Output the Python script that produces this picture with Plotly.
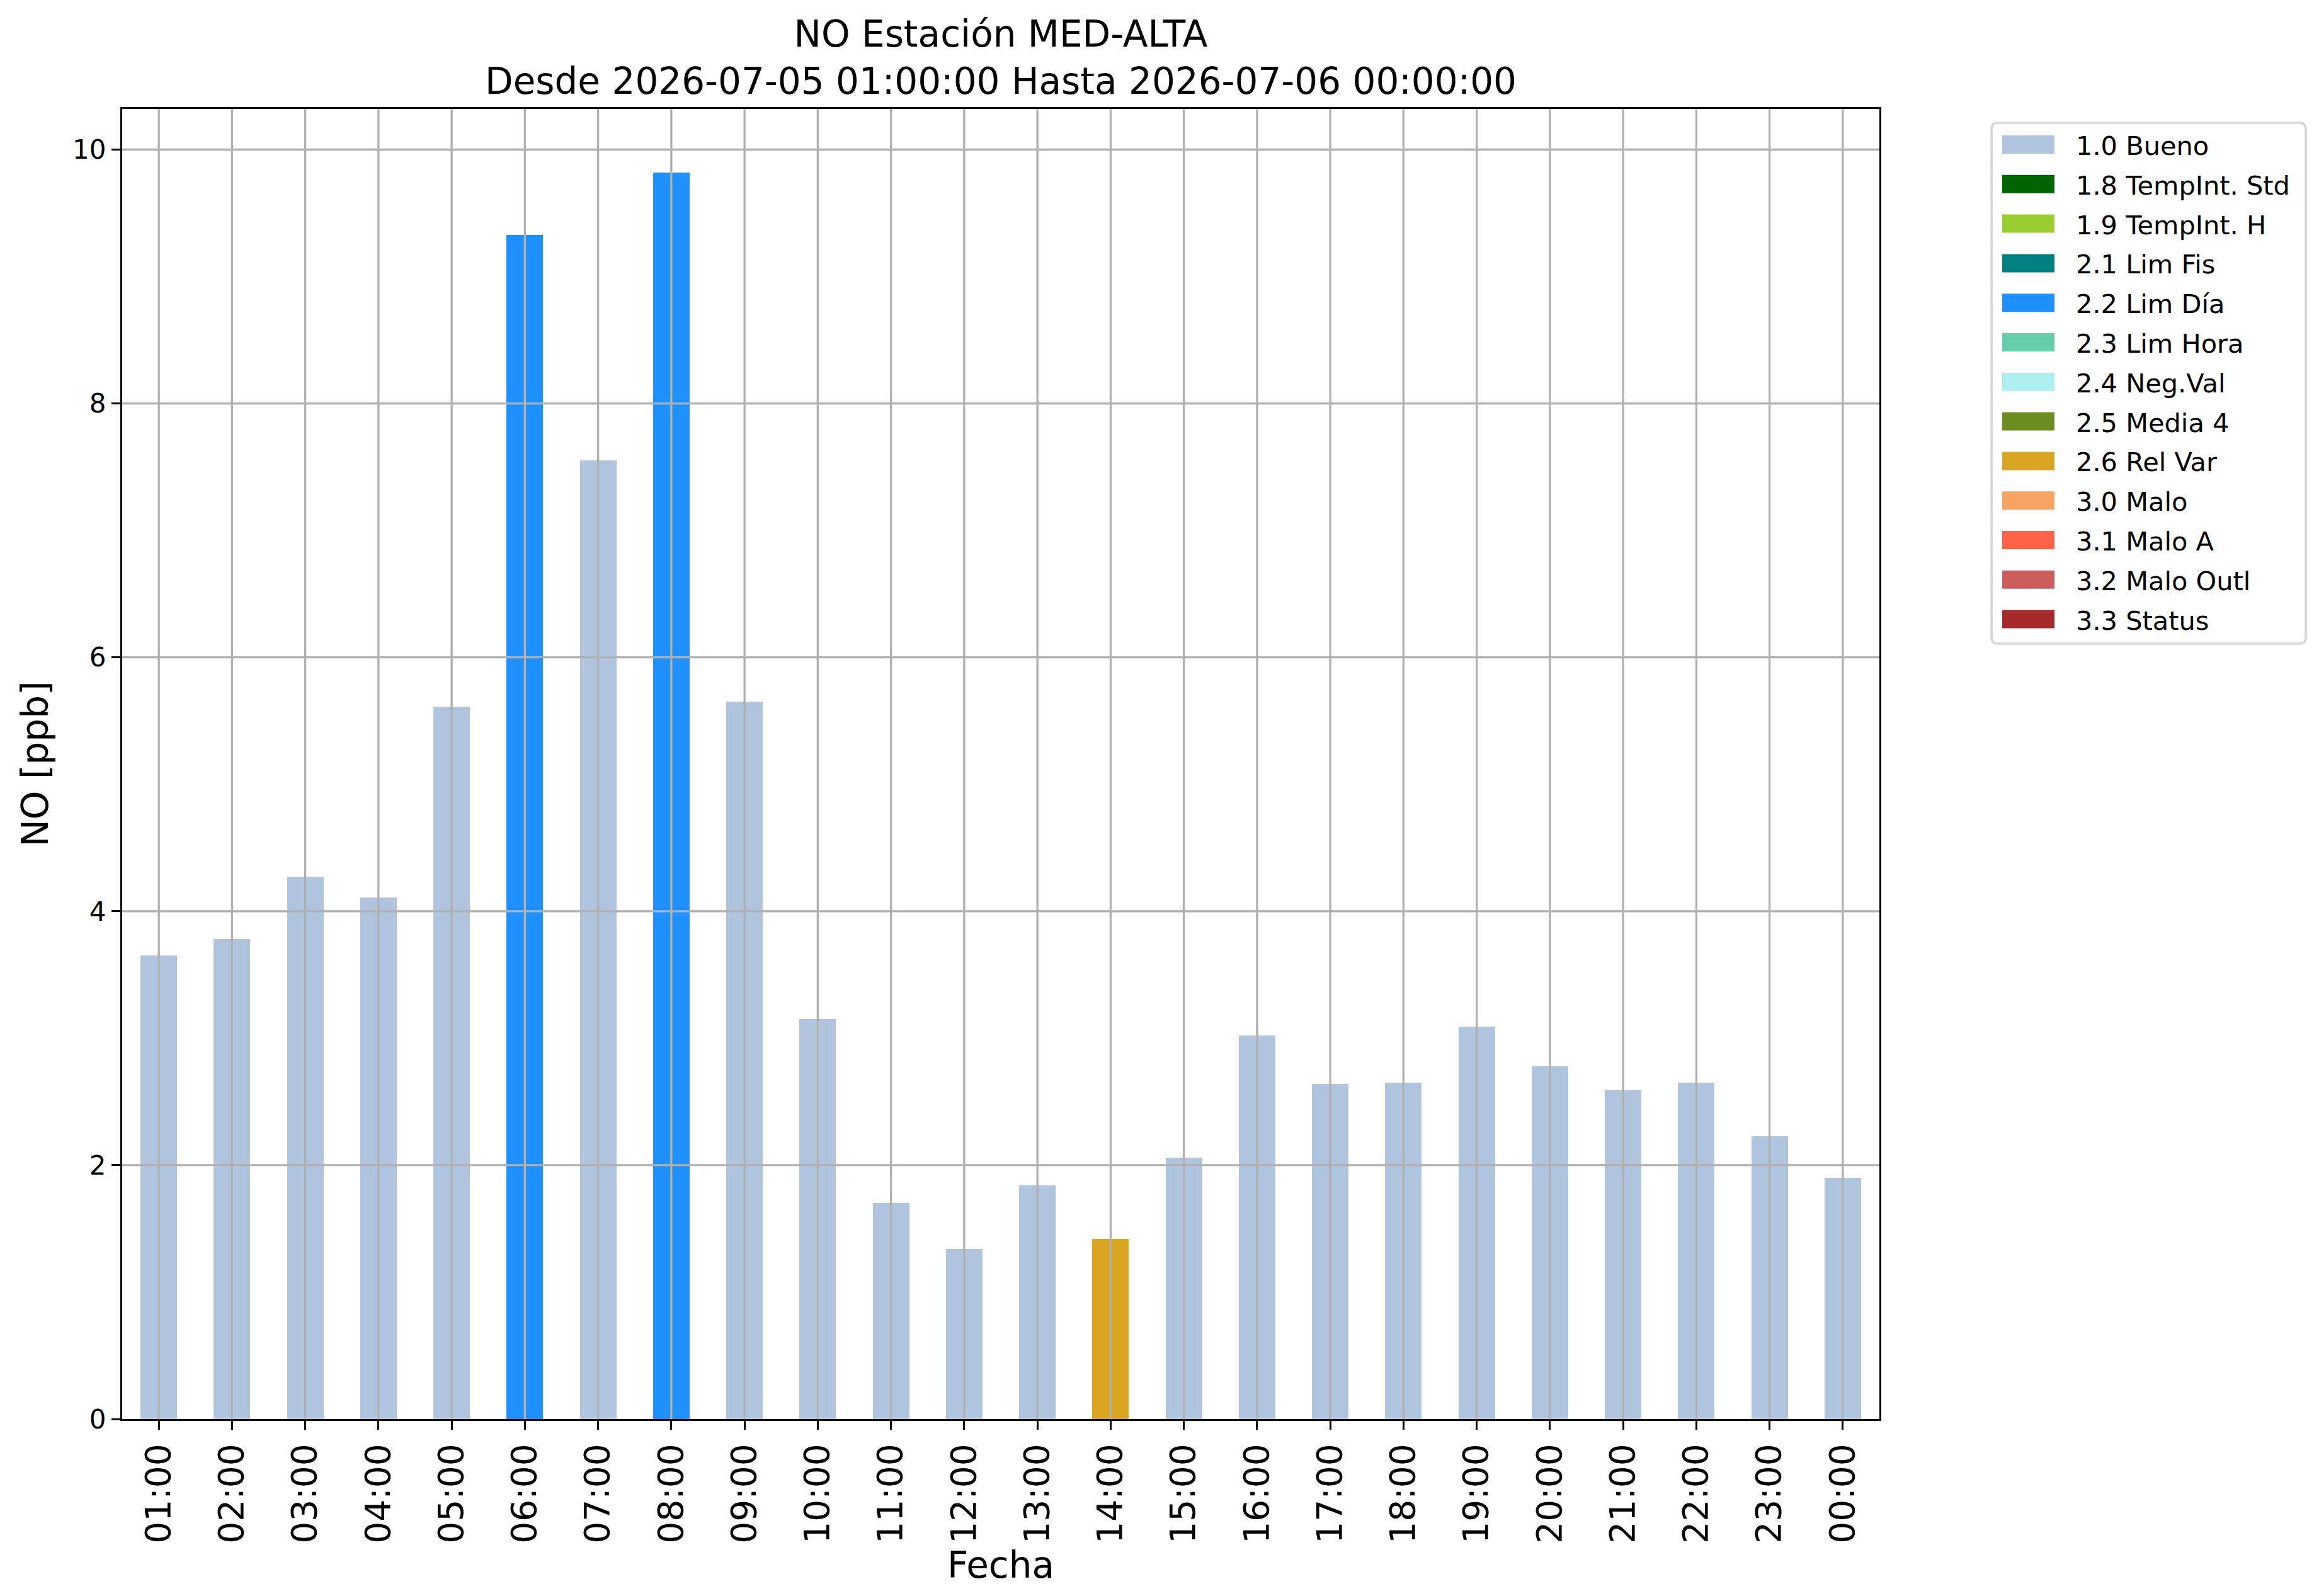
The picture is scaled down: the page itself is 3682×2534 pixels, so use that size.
import plotly.graph_objects as go

# hourly NO values, with the quality flag of each hour
hours = ['01:00', '02:00', '03:00', '04:00', '05:00', '06:00', '07:00', '08:00',
         '09:00', '10:00', '11:00', '12:00', '13:00', '14:00', '15:00', '16:00',
         '17:00', '18:00', '19:00', '20:00', '21:00', '22:00', '23:00', '00:00']
no_values = [3.65, 3.78, 4.27, 4.11, 5.61, 9.33, 7.55, 9.82,
             5.65, 3.15, 1.70, 1.34, 1.84, 1.42, 2.06, 3.02,
             2.64, 2.65, 3.09, 2.78, 2.59, 2.65, 2.23, 1.90]
hour_flags = ['1.0 Bueno'] * 5 + ['2.2 Lim Día', '1.0 Bueno', '2.2 Lim Día'] + \
             ['1.0 Bueno'] * 5 + ['2.6 Rel Var'] + ['1.0 Bueno'] * 10

flag_names = ['1.0 Bueno', '1.8 TempInt. Std', '1.9 TempInt. H', '2.1 Lim Fis',
              '2.2 Lim Día', '2.3 Lim Hora', '2.4 Neg.Val', '2.5 Media 4',
              '2.6 Rel Var', '3.0 Malo', '3.1 Malo A', '3.2 Malo Outl', '3.3 Status']
flag_colors = ['#B0C4DE', '#006400', '#9ACD32', '#008080', '#1E90FF', '#66CDAA',
               '#AFEEEE', '#6B8E23', '#DAA520', '#F4A460', '#FF6347', '#CD5C5C',
               '#A52A2A']
y_ticks = [0, 2, 4, 6, 8, 10]

W, H = 3682, 2534
L, R, T, B = 186, 2976, 165, 2245   # plot area in pixels
GRID = '#b0b0b0'
FONT = 'DejaVu Sans'


def px_x(px):
    return (px - L) / (R - L)


def px_y(py):
    return (B - py) / (B - T)


fig = go.Figure()
for name, color in zip(flag_names, flag_colors):
    ys = [v if f == name else None for v, f in zip(no_values, hour_flags)]
    fig.add_trace(go.Bar(x=hours, y=ys, name=name, width=0.5,
                         marker=dict(color=color, line=dict(width=0)),
                         showlegend=False))

shapes = []
# matplotlib draws the grid on top of the bars
for h in hours:
    shapes.append(dict(type='line', xref='x', yref='paper', x0=h, x1=h, y0=0, y1=1,
                       line=dict(color=GRID, width=3.3), layer='above'))
for t in y_ticks[1:]:
    shapes.append(dict(type='line', xref='paper', yref='y', x0=0, x1=1, y0=t, y1=t,
                       line=dict(color=GRID, width=3.3), layer='above'))

# legend box, drawn by hand so the patches keep matplotlib's size
bx0, bx1, by0, by1, rad = 3154, 3653, 187, 1014, 10
path = (f'M{px_x(bx0 + rad)},{px_y(by0)} L{px_x(bx1 - rad)},{px_y(by0)} '
        f'Q{px_x(bx1)},{px_y(by0)} {px_x(bx1)},{px_y(by0 + rad)} '
        f'L{px_x(bx1)},{px_y(by1 - rad)} '
        f'Q{px_x(bx1)},{px_y(by1)} {px_x(bx1 - rad)},{px_y(by1)} '
        f'L{px_x(bx0 + rad)},{px_y(by1)} '
        f'Q{px_x(bx0)},{px_y(by1)} {px_x(bx0)},{px_y(by1 - rad)} '
        f'L{px_x(bx0)},{px_y(by0 + rad)} '
        f'Q{px_x(bx0)},{px_y(by0)} {px_x(bx0 + rad)},{px_y(by0)} Z')
shapes.append(dict(type='path', xref='paper', yref='paper', path=path,
                   fillcolor='white', line=dict(color='#d6d6d6', width=3.5)))

annotations = []
for i, (name, color) in enumerate(zip(flag_names, flag_colors)):
    cy = 221.5 + 62.8 * i
    shapes.append(dict(type='rect', xref='paper', yref='paper',
                       x0=px_x(3171), x1=px_x(3254), y0=px_y(cy - 14.5), y1=px_y(cy + 14.5),
                       fillcolor=color, line=dict(width=0)))
    annotations.append(dict(text=name, xref='paper', yref='paper', x=px_x(3286), y=px_y(cy + 2),
                            xanchor='left', yanchor='middle', showarrow=False,
                            font=dict(family=FONT, size=41.5, color='black')))

fig.update_layout(
    width=W, height=H,
    margin=dict(l=L, r=W - R, t=T, b=H - B),
    paper_bgcolor='white', plot_bgcolor='white',
    barmode='stack', bargap=0,
    font=dict(family=FONT, color='black'),
    title=dict(text='NO Estación MED-ALTA<br>Desde 2026-07-05 01:00:00 Hasta 2026-07-06 00:00:00',
               x=0.5, xref='paper', xanchor='center',
               y=1 - 66 / H, yref='container', yanchor='middle',
               font=dict(family=FONT, size=58, color='black')),
    shapes=shapes, annotations=annotations,
)
fig.update_xaxes(type='category', categoryorder='array', categoryarray=hours,
                 range=[-0.5, len(hours) - 0.5], tickangle=-90,
                 tickfont=dict(family=FONT, size=55, color='black'),
                 ticks='outside', ticklen=14, tickwidth=3.3, tickcolor='black',
                 showgrid=False, showline=True, mirror=True, linecolor='black', linewidth=3.3,
                 title=dict(text='Fecha', font=dict(family=FONT, size=58, color='black'), standoff=0))
fig.update_yaxes(range=[0, 10.32], tickvals=y_ticks,
                 tickfont=dict(family=FONT, size=42, color='black'),
                 ticks='outside', ticklen=14, tickwidth=3.3, tickcolor='black',
                 showgrid=False, zeroline=False, showline=True, mirror=True,
                 linecolor='black', linewidth=3.3,
                 title=dict(text='NO [ppb]', font=dict(family=FONT, size=58, color='black'), standoff=20))

fig.write_html('out.html')
